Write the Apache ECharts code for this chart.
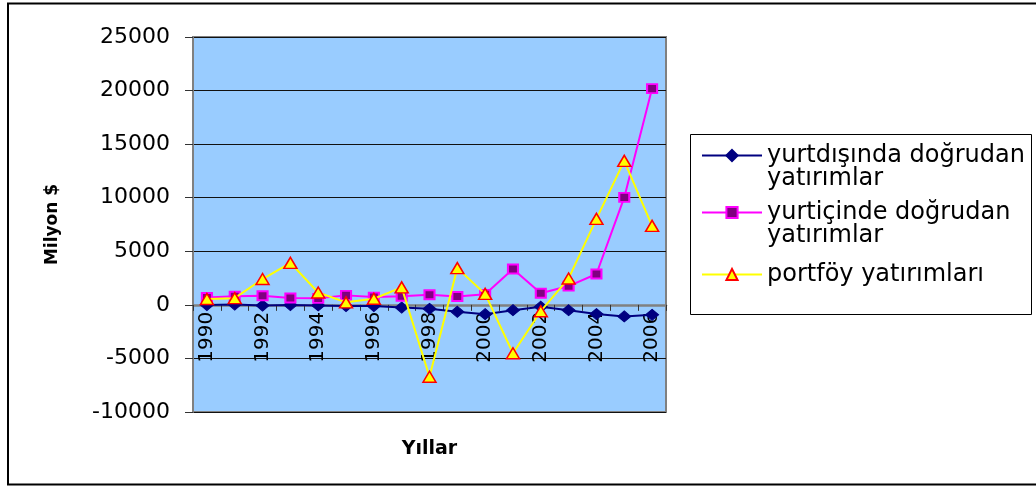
<!DOCTYPE html>
<html>
<head>
<meta charset="utf-8">
<script src="https://cdn.jsdelivr.net/npm/echarts@6/dist/echarts.min.js"></script>
<style>
  html, body { margin: 0; padding: 0; background: #fff; }
  #chart { width: 1036px; height: 487px; }
</style>
</head>
<body>
<div id="chart"></div>
<script>
// Years on the category axis
const years = ['1990', '1991', '1992', '1993', '1994', '1995', '1996', '1997', '1998',
  '1999', '2000', '2001', '2002', '2003', '2004', '2005', '2006'];

// Series names
const seriesNames = [
  'yurtdışında doğrudan yatırımlar',
  'yurtiçinde doğrudan yatırımlar',
  'portföy yatırımları'
];

// Values in million $
const outwardFDI = [-16, 27, -65, -14, -49, -113, -110, -251, -367, -645, -870, -497, -175, -499, -859, -1078, -934];
const inwardFDI = [684, 810, 844, 636, 608, 885, 722, 805, 940, 783, 982, 3352, 1082, 1752, 2883, 10031, 20185];
const portfolio = [547, 623, 2411, 3917, 1158, 237, 570, 1634, -6711, 3429, 1022, -4515, -593, 2465, 8023, 13437, 7373];

// Value axis range
const yMin = -10000;
const yMax = 25000;
const yStep = 5000;

// Axis titles
const yTitle = 'Milyon $';
const xTitle = 'Yıllar';

const FONT = 'DejaVu Sans';

// Plot box
const GRID = { left: 193, right: 370, top: 37, bottom: 75 };
const CHART_H = 487;

// The category axis sits on the zero line: shift it up from the grid bottom
const plotH = CHART_H - GRID.top - GRID.bottom;
const zeroOffset = -plotH * (0 - yMin) / (yMax - yMin);

const chart = echarts.init(document.getElementById('chart'), null, { renderer: 'canvas' });

// Two-line legend entries: a leading empty line keeps the icon level with the first line
function legendLabel(name) {
  if (/ yatırımlar$/.test(name)) {
    return '\n' + name.replace(/ yatırımlar$/, '\nyatırımlar');
  }
  return name;
}

const legendBase = {
  orient: 'vertical',
  left: 701,
  padding: 0,
  itemWidth: 60,
  itemHeight: 14,
  formatter: legendLabel,
  textStyle: { fontFamily: FONT, fontSize: 24, lineHeight: 23, color: '#000' }
};

chart.setOption({
  animation: false,
  backgroundColor: '#fff',
  textStyle: { fontFamily: FONT },
  grid: Object.assign({
    containLabel: false,
    outerBoundsMode: 'none',
    show: true,
    backgroundColor: '#99CCFF',
    borderColor: '#808080',
    borderWidth: 2
  }, GRID),
  legend: [
    Object.assign({}, legendBase, { top: 120.5, data: [seriesNames[0]] }),
    Object.assign({}, legendBase, { top: 177.5, data: [seriesNames[1]] }),
    Object.assign({}, legendBase, { top: 262.5, data: [seriesNames[2]] })
  ],
  xAxis: {
    type: 'category',
    data: years,
    boundaryGap: true,
    position: 'bottom',
    offset: zeroOffset,
    name: xTitle,
    nameLocation: 'middle',
    nameGap: 135,
    nameTextStyle: { fontFamily: FONT, fontSize: 19, fontWeight: 'bold', color: '#000' },
    axisLine: { onZero: false, lineStyle: { color: '#808080', width: 2.5 } },
    axisTick: { show: true, interval: 0, length: 6, lineStyle: { color: '#333', width: 1 } },
    axisLabel: {
      interval: 1,
      rotate: 90,
      margin: 7,
      fontFamily: FONT,
      fontSize: 20,
      color: '#000'
    },
    splitLine: { show: false }
  },
  yAxis: {
    type: 'value',
    min: yMin,
    max: yMax,
    interval: yStep,
    name: yTitle,
    nameLocation: 'middle',
    nameRotate: 90,
    nameGap: 132,
    nameTextStyle: { fontFamily: FONT, fontSize: 17, fontWeight: 'bold', color: '#000' },
    axisLine: { show: true, lineStyle: { color: '#808080', width: 2 } },
    axisTick: { show: true, length: 8, lineStyle: { color: '#333', width: 1 } },
    axisLabel: {
      margin: 23, fontFamily: FONT, fontSize: 22, color: '#000',
      formatter: function (v) { return String(v); }
    },
    splitLine: { show: true, lineStyle: { color: '#111', width: 1 } }
  },
  series: [
    {
      name: seriesNames[0],
      type: 'line',
      data: outwardFDI,
      symbol: 'diamond',
      symbolSize: [13, 11],
      lineStyle: { color: '#000080', width: 2 },
      itemStyle: { color: '#000080', borderColor: '#000080', borderWidth: 1 },
      z: 3
    },
    {
      name: seriesNames[1],
      type: 'line',
      data: inwardFDI,
      symbol: 'rect',
      symbolSize: [10, 9],
      lineStyle: { color: '#FF00FF', width: 2 },
      itemStyle: { color: '#800080', borderColor: '#FF00FF', borderWidth: 2 },
      z: 4
    },
    {
      name: seriesNames[2],
      type: 'line',
      data: portfolio,
      symbol: 'triangle',
      symbolSize: [13, 11],
      lineStyle: { color: '#FFFF00', width: 2 },
      itemStyle: { color: '#FFFF00', borderColor: '#FF0000', borderWidth: 1.5 },
      z: 5
    }
  ],
  graphic: [
    {
      type: 'rect',
      z: -10,
      silent: true,
      shape: { x: 8, y: 3.5, width: 1070, height: 481 },
      style: { fill: null, stroke: '#000', lineWidth: 2 }
    },
    {
      type: 'rect',
      z: -5,
      silent: true,
      shape: { x: 690.5, y: 134.5, width: 341, height: 180 },
      style: { fill: '#fff', stroke: '#000', lineWidth: 1 }
    }
  ]
});
</script>
</body>
</html>
